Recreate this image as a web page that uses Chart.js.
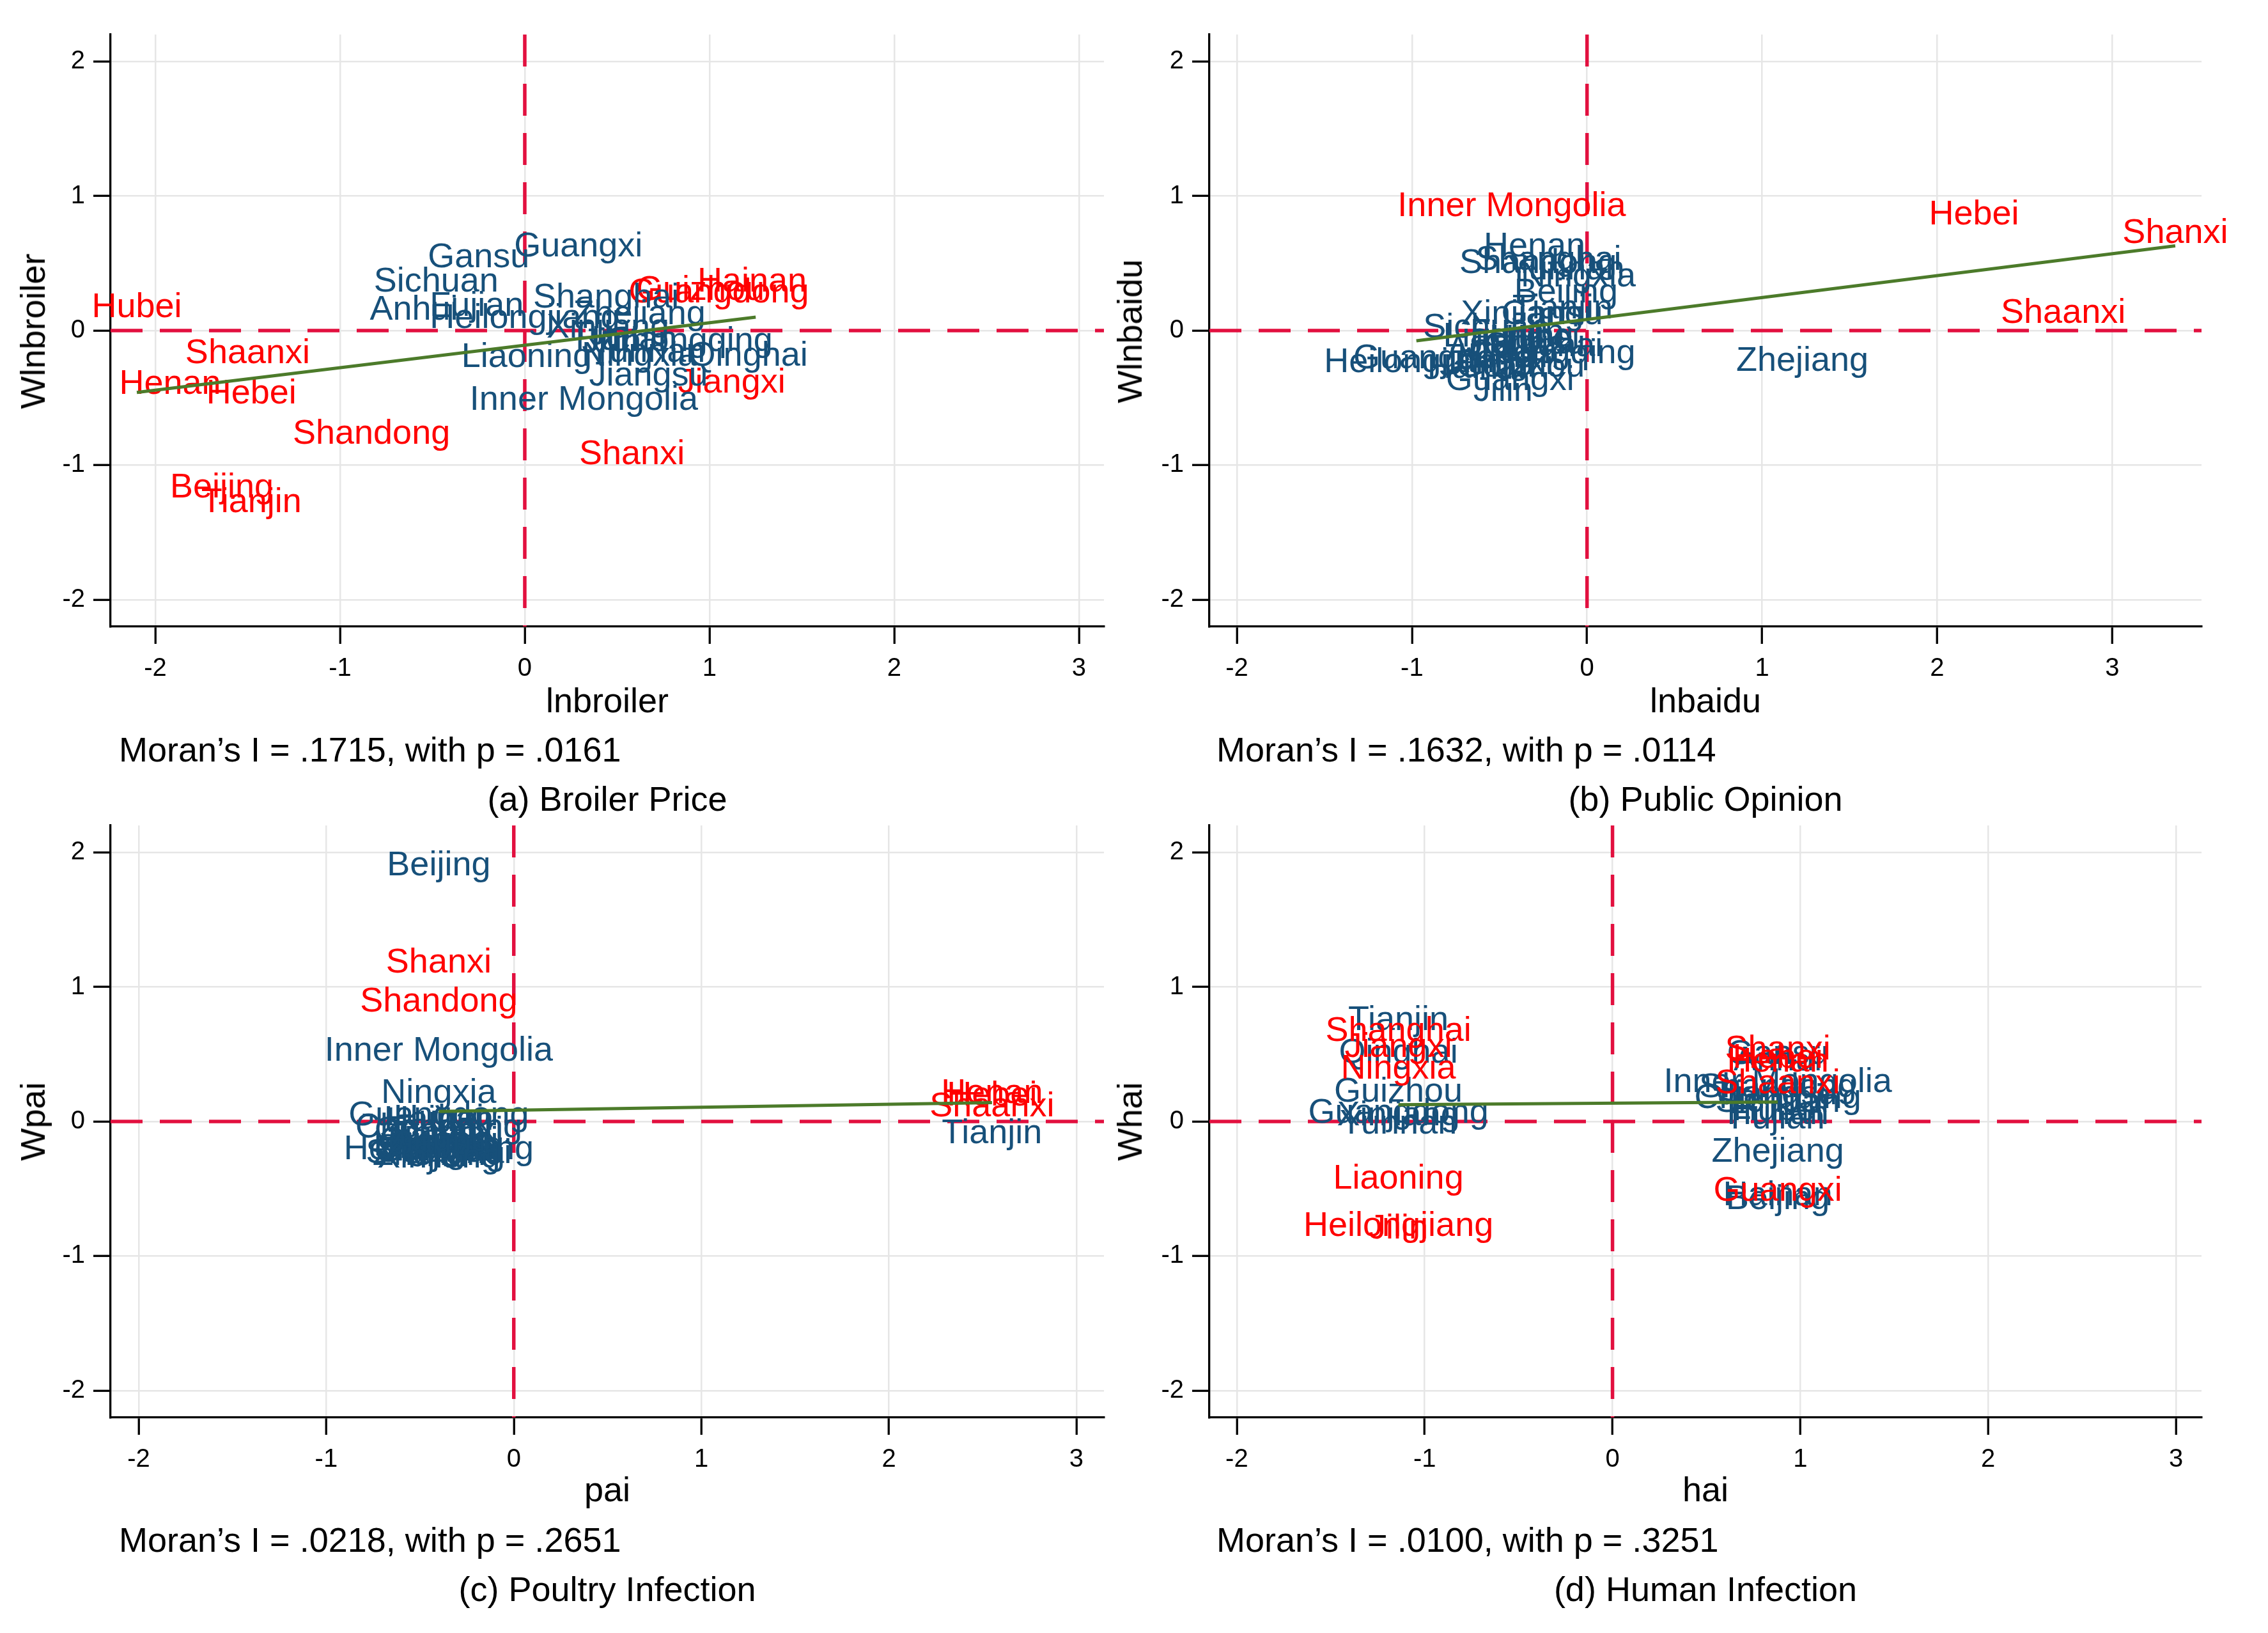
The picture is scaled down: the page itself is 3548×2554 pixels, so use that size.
<!DOCTYPE html>
<html>
<head>
<meta charset="utf-8">
<script src="https://cdn.jsdelivr.net/npm/chart.js@4.4.1/dist/chart.umd.min.js"></script>
<style>
  html, body { margin: 0; padding: 0; background: #ffffff; }
  #page { position: relative; width: 3548px; height: 2554px; overflow: hidden; background: #fff;
          font-family: "Liberation Sans", Arial, sans-serif; color: #000; }
  canvas { position: absolute; }
  .txt { position: absolute; white-space: nowrap; font-size: 54px; line-height: 1; }
  .ctr { transform: translate(-50%, -50%); }
  .lft { transform: translate(0, -50%); }
  .rot { transform: translate(-50%, -50%) rotate(-90deg); }
</style>
</head>
<body>
<div id="page">
  <canvas id="cA" width="1774" height="1277" style="left:0px;top:0px;width:1774px;height:1277px"></canvas>
  <canvas id="cB" width="1774" height="1277" style="left:1774px;top:0px;width:1774px;height:1277px"></canvas>
  <canvas id="cC" width="1774" height="1317" style="left:0px;top:1237px;width:1774px;height:1317px"></canvas>
  <canvas id="cD" width="1774" height="1317" style="left:1774px;top:1237px;width:1774px;height:1317px"></canvas>

  <div class="txt rot" style="left:51px;top:518px">Wlnbroiler</div>
  <div class="txt ctr" style="left:950px;top:1095px">lnbroiler</div>
  <div class="txt lft" style="left:186px;top:1172px">Moran’s I = .1715, with p = .0161</div>
  <div class="txt ctr" style="left:950px;top:1249px">(a) Broiler Price</div>

  <div class="txt rot" style="left:1767px;top:518px">Wlnbaidu</div>
  <div class="txt ctr" style="left:2668px;top:1095px">lnbaidu</div>
  <div class="txt lft" style="left:1903px;top:1172px">Moran’s I = .1632, with p = .0114</div>
  <div class="txt ctr" style="left:2668px;top:1249px">(b) Public Opinion</div>

  <div class="txt rot" style="left:51px;top:1754px">Wpai</div>
  <div class="txt ctr" style="left:950px;top:2329px">pai</div>
  <div class="txt lft" style="left:186px;top:2408px">Moran’s I = .0218, with p = .2651</div>
  <div class="txt ctr" style="left:950px;top:2485px">(c) Poultry Infection</div>

  <div class="txt rot" style="left:1767px;top:1754px">Whai</div>
  <div class="txt ctr" style="left:2668px;top:2329px">hai</div>
  <div class="txt lft" style="left:1903px;top:2408px">Moran’s I = .0100, with p = .3251</div>
  <div class="txt ctr" style="left:2668px;top:2485px">(d) Human Infection</div>
</div>
<script>
// ---------------- tick values / labels ----------------
const xTicks = [-2, -1, 0, 1, 2, 3];
const xTickLabels = ['-2', '-1', '0', '1', '2', '3'];
const yTicks = [-2, -1, 0, 1, 2];
const yTickLabels = ['-2', '-1', '0', '1', '2'];

// ---------------- (a) Broiler Price ----------------
const broilerNames = ['Hubei','Shaanxi','Henan','Hebei','Shandong','Beijing','Tianjin','Shanxi','Jiangxi','Hainan','Guizhou','Guangdong',
  'Gansu','Guangxi','Sichuan','Anhui','Fujian','Heilongjiang','Shanghai','Zhejiang','Liaoning','Inner Mongolia','Jiangsu','Qinghai','Chongqing','Ningxia','Yunnan','Hunan','Xinjiang','Jilin'];
const broilerX = [-2.10,-1.50,-1.92,-1.48,-0.83,-1.64,-1.48,0.58,1.12,1.23,0.95,1.05,
  -0.25,0.29,-0.48,-0.60,-0.26,0.00,0.44,0.62,0.01,0.32,0.67,1.21,0.89,0.62,0.66,0.55,0.45,0.47];
const broilerY = [0.17,-0.17,-0.40,-0.47,-0.77,-1.17,-1.28,-0.92,-0.39,0.36,0.30,0.28,
  0.54,0.62,0.36,0.15,0.18,0.09,0.24,0.12,-0.20,-0.52,-0.34,-0.19,-0.08,-0.19,-0.16,-0.07,0.02,-0.09];
const broilerRed = ['Hubei','Shaanxi','Henan','Hebei','Shandong','Beijing','Tianjin','Shanxi','Jiangxi','Hainan','Guizhou','Guangdong'];
const broilerFitX = [-2.10, 1.25];
const broilerFitY = [-0.46, 0.10];

// ---------------- (b) Public Opinion ----------------
const baiduNames = ['Zhejiang','Henan','Shandong','Shanghai','Yunnan','Ningxia','Beijing','Tianjin','Xinjiang','Gansu','Sichuan','Heilongjiang','Guangdong','Chongqing','Jilin','Guangxi','Liaoning','Jiangsu','Anhui','Fujian','Jiangxi','Hubei','Hunan','Hainan','Guizhou','Qinghai',
  'Inner Mongolia','Hebei','Shanxi','Shaanxi'];
const baiduX = [1.23,-0.30,-0.28,-0.22,-0.12,-0.05,-0.12,-0.14,-0.37,-0.20,-0.58,-0.96,-0.82,-0.20,-0.48,-0.44,-0.45,-0.35,-0.55,-0.40,-0.50,-0.30,-0.45,-0.60,-0.38,-0.25,
  -0.43,2.21,3.36,2.72];
const baiduY = [-0.23,0.62,0.50,0.52,0.45,0.40,0.28,0.16,0.12,0.12,0.02,-0.24,-0.21,-0.17,-0.45,-0.37,-0.05,-0.10,-0.15,-0.02,-0.25,-0.06,-0.20,-0.28,-0.27,-0.12,
  0.92,0.86,0.72,0.13];
const baiduRed = ['Inner Mongolia','Hebei','Shanxi','Shaanxi'];
const baiduFitX = [-0.975, 3.36];
const baiduFitY = [-0.076, 0.63];

// ---------------- (c) Poultry Infection ----------------
const paiNames = ['Beijing','Inner Mongolia','Ningxia','Tianjin','Guangdong','Hainan','Hubei','Chongqing','Guangxi','Fujian','Jiangxi','Hunan','Anhui','Liaoning','Heilongjiang','Jiangsu','Zhejiang','Shanghai','Jilin','Sichuan','Guizhou','Yunnan','Gansu','Qinghai','Xinjiang',
  'Shanxi','Shandong','Henan','Hebei','Shaanxi'];
const paiX = [-0.40,-0.40,-0.40,2.55,-0.40,-0.40,-0.40,-0.40,-0.40,-0.40,-0.40,-0.40,-0.40,-0.40,-0.40,-0.40,-0.40,-0.40,-0.40,-0.40,-0.40,-0.40,-0.40,-0.40,-0.40,
  -0.40,-0.40,2.55,2.55,2.55];
const paiY = [1.90,0.52,0.21,-0.09,0.04,0.01,0.02,-0.05,-0.07,-0.10,-0.12,-0.14,-0.16,-0.18,-0.21,-0.22,-0.25,-0.24,-0.26,-0.20,-0.23,-0.19,-0.17,-0.15,-0.27,
  1.18,0.89,0.21,0.19,0.11];
const paiRed = ['Shanxi','Shandong','Henan','Hebei','Shaanxi'];
const paiFitX = [-0.40, 2.55];
const paiFitY = [0.075, 0.14];

// ---------------- (d) Human Infection ----------------
const haiNames = ['Tianjin','Qinghai','Guizhou','Guangdong','Xinjiang','Yunnan','Shanghai','Jiangxi','Ningxia','Liaoning','Heilongjiang','Jilin',
  'Gansu','Anhui','Inner Mongolia','Shandong','Chongqing','Jiangsu','Sichuan','Hubei','Hunan','Fujian','Zhejiang','Hainan','Beijing',
  'Shanxi','Hebei','Henan','Shaanxi','Guangxi'];
const haiX = [-1.14,-1.14,-1.14,-1.14,-1.14,-1.14,-1.14,-1.14,-1.14,-1.14,-1.14,-1.14,
  0.88,0.88,0.88,0.88,0.88,0.88,0.88,0.88,0.88,0.88,0.88,0.88,0.88,
  0.88,0.88,0.88,0.88,0.88];
const haiY = [0.75,0.51,0.22,0.06,0.04,-0.02,0.67,0.55,0.39,-0.43,-0.78,-0.80,
  0.50,0.45,0.29,0.25,0.17,0.20,0.14,0.08,0.05,0.02,-0.23,-0.55,-0.58,
  0.53,0.47,0.44,0.28,-0.52];
const haiRed = ['Shanghai','Jiangxi','Ningxia','Liaoning','Heilongjiang','Jilin','Shanxi','Hebei','Henan','Shaanxi','Guangxi'];
const haiFitX = [-1.14, 0.88];
const haiFitY = [0.125, 0.145];

// ---------------- drawing ----------------
const BLUE = '#17507a';
const RED = '#ff0000';
const ZERO_COLOR = '#e2103f';
const FIT_COLOR = '#4c7b2a';
const FONT_FAMILY = '"Liberation Sans", Arial, sans-serif';

const labelPlugin = {
  id: 'pointLabels',
  afterDatasetDraw(chart, args) {
    const ds = chart.data.datasets[args.index];
    if (!ds.pointLabels) return;
    const ctx = chart.ctx;
    ctx.save();
    ctx.font = '54px ' + FONT_FAMILY;
    ctx.textAlign = 'center';
    ctx.textBaseline = 'middle';
    args.meta.data.forEach((el, i) => {
      ctx.fillStyle = ds.labelColors[i];
      ctx.fillText(ds.pointLabels[i], el.x, el.y);
    });
    ctx.restore();
  }
};

function makePanel(canvasId, names, xs, ys, redList, fitX, fitY, xMin, xMax, pad) {
  const yMin = -2.2, yMax = 2.2;
  const pts = names.map((n, i) => ({ x: xs[i], y: ys[i] }));
  const colors = names.map(n => redList.includes(n) ? RED : BLUE);
  const fitPts = fitX.map((v, i) => ({ x: v, y: fitY[i] }));
  const ctx = document.getElementById(canvasId).getContext('2d');
  return new Chart(ctx, {
    type: 'scatter',
    data: {
      datasets: [
        { label: 'fit', data: fitPts, showLine: true, borderColor: FIT_COLOR, borderWidth: 5,
          pointRadius: 0, order: 0, clip: false },
        { label: 'regions', data: pts, pointRadius: 0, pointHoverRadius: 0, order: 1,
          pointLabels: names, labelColors: colors, clip: false },
        { label: 'x0', data: [{ x: 0, y: yMax }, { x: 0, y: yMin }], showLine: true, borderColor: ZERO_COLOR,
          borderWidth: 5.5, borderDash: [50, 27], pointRadius: 0, order: 2 },
        { label: 'y0', data: [{ x: xMin, y: 0 }, { x: xMax, y: 0 }], showLine: true, borderColor: ZERO_COLOR,
          borderWidth: 5.5, borderDash: [50, 27], pointRadius: 0, order: 3 }
      ]
    },
    options: {
      responsive: false,
      maintainAspectRatio: false,
      devicePixelRatio: 1,
      animation: false,
      events: [],
      layout: { padding: pad },
      plugins: { legend: { display: false }, tooltip: { enabled: false } },
      scales: {
        x: {
          type: 'linear', min: xMin, max: xMax,
          afterBuildTicks: s => { s.ticks = xTicks.map(v => ({ value: v })); },
          afterFit: s => { s.height = 100; },
          ticks: { autoSkip: false, maxRotation: 0, padding: 15, color: '#000',
                   font: { family: FONT_FAMILY, size: 40 },
                   callback: (v, i) => xTickLabels[i] },
          grid: { color: '#e6e6e6', lineWidth: 2.5, tickLength: 27, tickColor: '#000', tickWidth: 3.3 },
          border: { display: true, color: '#000', width: 3.3 }
        },
        y: {
          type: 'linear', min: yMin, max: yMax,
          afterBuildTicks: s => { s.ticks = yTicks.map(v => ({ value: v })); },
          afterFit: s => { s.width = 100; },
          ticks: { autoSkip: false, padding: 13, color: '#000',
                   font: { family: FONT_FAMILY, size: 40 },
                   callback: (v, i) => yTickLabels[i] },
          grid: { color: '#e6e6e6', lineWidth: 2.5, tickLength: 27, tickColor: '#000', tickWidth: 3.3 },
          border: { display: true, color: '#000', width: 3.3 }
        }
      }
    },
    plugins: [labelPlugin]
  });
}

makePanel('cA', broilerNames, broilerX, broilerY, broilerRed, broilerFitX, broilerFitY, -2.242, 3.135,
  { left: 73, right: 47, top: 54, bottom: 197 });
makePanel('cB', baiduNames, baiduX, baiduY, baiduRed, baiduFitX, baiduFitY, -2.157, 3.51,
  { left: 18, right: 104, top: 54, bottom: 197 });
makePanel('cC', paiNames, paiX, paiY, paiRed, paiFitX, paiFitY, -2.15, 3.147,
  { left: 73, right: 47, top: 54, bottom: 237 });
makePanel('cD', haiNames, haiX, haiY, haiRed, haiFitX, haiFitY, -2.146, 3.136,
  { left: 18, right: 104, top: 54, bottom: 237 });
</script>
</body>
</html>
